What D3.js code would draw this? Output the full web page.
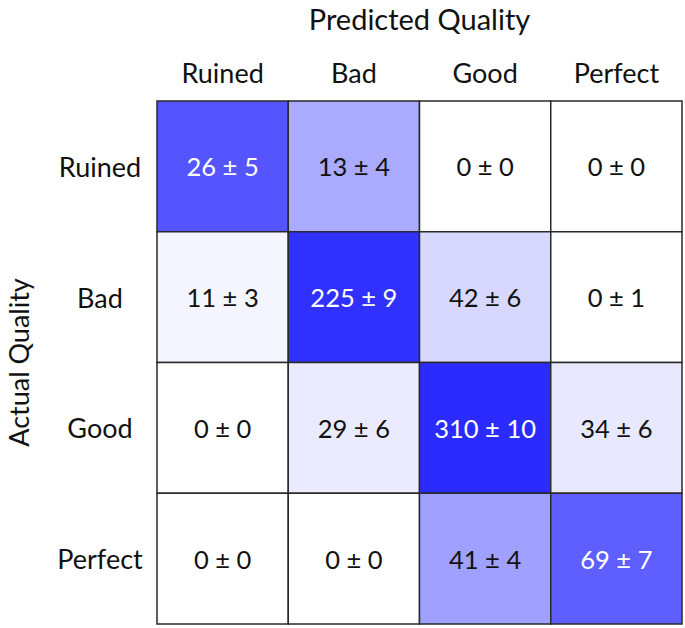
<!DOCTYPE html>
<html><head><meta charset="utf-8">
<script src="https://cdn.jsdelivr.net/npm/d3@7"></script>
<style>body{margin:0;background:#fff}svg{display:block}</style>
</head><body>
<svg id="chart" width="685" height="628"></svg>
<script>
const predicted = ["Ruined","Bad","Good","Perfect"];
const actual = ["Ruined","Bad","Good","Perfect"];
const means = [
  [26, 13, 0, 0],
  [11, 225, 42, 0],
  [0, 29, 310, 34],
  [0, 0, 41, 69]
];
const stds = [
  [5, 4, 0, 0],
  [3, 9, 6, 1],
  [0, 6, 10, 6],
  [0, 0, 4, 7]
];
const xTitle = "Predicted Quality";
const yTitle = "Actual Quality";

const svg = d3.select("#chart");
const font = "Lato, 'Open Sans', sans-serif";
const x = d3.scaleBand().domain(predicted).range([157, 682]).padding(0);
const y = d3.scaleBand().domain(actual).range([101, 624]).padding(0);
const color = d3.scaleLinear().domain([0,1]).range(["#ffffff","#0000ff"]);

const cells = [];
actual.forEach((a,i)=>{
  const rowSum = d3.sum(means[i]);
  predicted.forEach((p,j)=>{
    cells.push({a,p,m:means[i][j],s:stds[i][j],f:means[i][j]/rowSum});
  });
});

svg.selectAll("rect.cell").data(cells).join("rect")
  .attr("class","cell")
  .attr("x",d=>x(d.p)).attr("y",d=>y(d.a))
  .attr("width",x.bandwidth()).attr("height",y.bandwidth())
  .attr("fill",d=>color(d.f))
  .attr("stroke","#2a2a2a").attr("stroke-width",1.5);

svg.selectAll("text.val").data(cells).join("text")
  .attr("class","val")
  .attr("x",d=>x(d.p)+x.bandwidth()/2)
  .attr("y",d=>y(d.a)+y.bandwidth()/2)
  .attr("text-anchor","middle").attr("dominant-baseline","central")
  .attr("font-family",font).attr("font-size",25.5)
  .attr("fill",d=>d.f>0.5?"#fff":"#111")
  .text(d=>`${d.m} ± ${d.s}`);

svg.selectAll("text.col").data(predicted).join("text")
  .attr("class","col")
  .attr("x",d=>x(d)+x.bandwidth()/2).attr("y",72)
  .attr("text-anchor","middle").attr("dominant-baseline","central")
  .attr("font-family",font).attr("font-size",27).attr("fill","#111")
  .text(d=>d);

svg.selectAll("text.row").data(actual).join("text")
  .attr("class","row")
  .attr("x",100).attr("y",d=>y(d)+y.bandwidth()/2)
  .attr("text-anchor","middle").attr("dominant-baseline","central")
  .attr("font-family",font).attr("font-size",27).attr("fill","#111")
  .text(d=>d);

svg.append("text")
  .attr("x",(157+682)/2).attr("y",18)
  .attr("text-anchor","middle").attr("dominant-baseline","central")
  .attr("font-family",font).attr("font-size",29).attr("fill","#111")
  .text(xTitle);

svg.append("text")
  .attr("transform",`translate(18,${(101+624)/2}) rotate(-90)`)
  .attr("text-anchor","middle").attr("dominant-baseline","central")
  .attr("font-family",font).attr("font-size",27).attr("fill","#111")
  .text(yTitle);
</script>
</body></html>
